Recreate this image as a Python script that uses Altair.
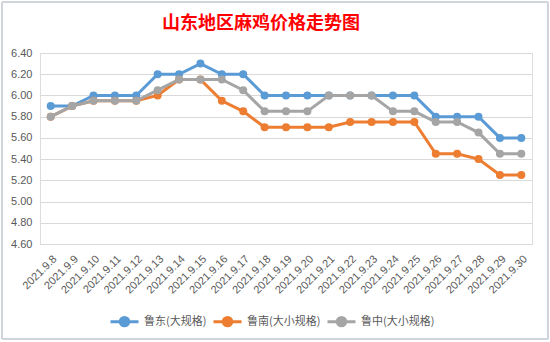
import altair as alt
import pandas as pd

dates = ["2021.9.8", "2021.9.9", "2021.9.10", "2021.9.11", "2021.9.12", "2021.9.13",
         "2021.9.14", "2021.9.15", "2021.9.16", "2021.9.17", "2021.9.18", "2021.9.19",
         "2021.9.20", "2021.9.21", "2021.9.22", "2021.9.23", "2021.9.24", "2021.9.25",
         "2021.9.26", "2021.9.27", "2021.9.28", "2021.9.29", "2021.9.30"]

ludong = [5.90, 5.90, 6.00, 6.00, 6.00, 6.20, 6.20, 6.30, 6.20, 6.20, 6.00, 6.00,
          6.00, 6.00, 6.00, 6.00, 6.00, 6.00, 5.80, 5.80, 5.80, 5.60, 5.60]
lunan = [5.80, 5.90, 5.95, 5.95, 5.95, 6.00, 6.15, 6.15, 5.95, 5.85, 5.70, 5.70,
         5.70, 5.70, 5.75, 5.75, 5.75, 5.75, 5.45, 5.45, 5.40, 5.25, 5.25]
luzhong = [5.80, 5.90, 5.95, 5.95, 5.95, 6.05, 6.15, 6.15, 6.15, 6.05, 5.85, 5.85,
           5.85, 6.00, 6.00, 6.00, 5.85, 5.85, 5.75, 5.75, 5.65, 5.45, 5.45]

series_names = ["鲁东(大规格)", "鲁南(大小规格)", "鲁中(大小规格)"]
series_colors = ["#5B9BD5", "#ED7D31", "#A5A5A5"]
y_ticks = [4.6, 4.8, 5.0, 5.2, 5.4, 5.6, 5.8, 6.0, 6.2, 6.4]
title_text = "山东地区麻鸡价格走势图"

rows = []
for name, vals in zip(series_names, [ludong, lunan, luzhong]):
    for d, v in zip(dates, vals):
        rows.append({"date": d, "price": v, "series": name})
df = pd.DataFrame(rows)

x_enc = alt.X("date:N", sort=dates, title=None,
              axis=alt.Axis(labelAngle=-45, labelAlign="right", labelBaseline="middle",
                            labelPadding=13, labelOffset=4, ticks=False, domain=False,
                            grid=False, labelColor="#595959", labelFontSize=11,
                            labelFont="Liberation Sans"))
y_enc = alt.Y("price:Q", title=None,
              scale=alt.Scale(domain=[4.6, 6.4], nice=False, zero=False),
              axis=alt.Axis(values=y_ticks, format=".2f", ticks=False, domain=False,
                            gridColor="#d9d9d9", labelColor="#595959", labelFontSize=11,
                            labelFont="Liberation Sans", labelPadding=8))
legend_path = "M-1,0L1,0M0.3,0A0.3,0.3,0,1,1,-0.3,0A0.3,0.3,0,1,1,0.3,0Z"
color_enc = alt.Color("series:N",
                      scale=alt.Scale(domain=series_names, range=series_colors),
                      legend=alt.Legend(title=None, orient="none", direction="horizontal",
                                        legendX=69, legendY=253,
                                        symbolType=legend_path, symbolSize=784,
                                        symbolStrokeWidth=3, columnPadding=0,
                                        labelFont="Noto Sans CJK SC", labelFontSize=11,
                                        labelColor="#595959", labelOffset=4))

base = alt.Chart(df)
layers = []
for name in series_names:
    layers.append(
        base.transform_filter(alt.datum.series == name)
        .mark_line(strokeWidth=3,
                   point=alt.OverlayMarkDef(filled=True, size=64, opacity=1))
        .encode(x=x_enc, y=y_enc, color=color_enc)
    )

frame = alt.Chart(df).mark_rect(fillOpacity=0, stroke="#d0d3dc", strokeWidth=1).encode(
    x=alt.value(-38), x2=alt.value(508), y=alt.value(-51), y2=alt.value(286)
)

title = alt.Chart(pd.DataFrame({"t": [title_text]})).mark_text(
    color="#FF0000", fontSize=18, font="Noto Sans CJK SC", fontWeight="bold",
    align="center", baseline="middle"
).encode(text="t:N", x=alt.value(221), y=alt.value(-29))

chart = alt.layer(frame, *layers, title).properties(
    width=492, height=191,
    autosize=alt.AutoSizeParams(type="none"),
    padding={"left": 40, "top": 53, "right": 18, "bottom": 98},
).configure_view(stroke=None).configure(background="white")

chart.save("out.html", embed_options={"renderer": "svg", "actions": False})
